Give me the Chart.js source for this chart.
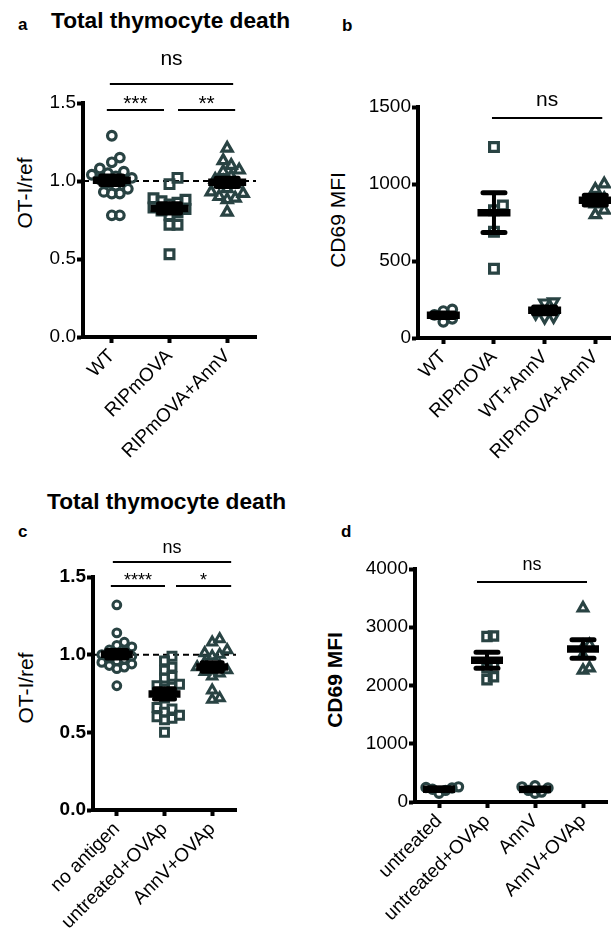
<!DOCTYPE html>
<html>
<head>
<meta charset="utf-8">
<script src="https://cdn.jsdelivr.net/npm/chart.js@4.4.1/dist/chart.umd.min.js"></script>
<style>
    html, body { margin: 0; padding: 0; background: #fff; width: 611px; height: 930px; overflow: hidden; position: relative; }
    canvas { position: absolute; }
    .txt { position: absolute; font-family: "Liberation Sans", Arial, sans-serif; color: #000; line-height: 1; white-space: nowrap; }
    .bold { font-weight: bold; }
    .ytitle { font-size: 21px; transform: translate(-50%, -50%) rotate(-90deg); }
</style>
</head>
<body>
<div class="txt bold" style="left:18px;top:15.5px;font-size:17px">a</div>
<div class="txt bold" style="left:51px;top:8.8px;font-size:22.7px">Total thymocyte death</div>
<div class="txt bold" style="left:342px;top:16.5px;font-size:17px">b</div>
<div class="txt bold" style="left:47px;top:489.8px;font-size:22.7px">Total thymocyte death</div>
<div class="txt bold" style="left:18px;top:522.5px;font-size:17px">c</div>
<div class="txt bold" style="left:341px;top:522.5px;font-size:17px">d</div>
<div class="txt ytitle" style="left:24px;top:193px">OT-I/ref</div>
<div class="txt ytitle" style="left:337px;top:220px">CD69 MFI</div>
<div class="txt ytitle" style="left:25px;top:688px">OT-I/ref</div>
<div class="txt ytitle bold" style="left:334px;top:680px">CD69 MFI</div>

<canvas id="chart-a" width="300" height="460" style="left:0;top:0"></canvas>
<canvas id="chart-b" width="330" height="460" style="left:300px;top:0"></canvas>
<canvas id="chart-c" width="300" height="470" style="left:0;top:460px"></canvas>
<canvas id="chart-d" width="320" height="470" style="left:300px;top:460px"></canvas>

<script>
// Panel a - total thymocyte death (OT-I/ref)
const aCategories = ['WT', 'RIPmOVA', 'RIPmOVA+AnnV'];
const aWT = [1.29, 1.15, 1.12, 1.08, 1.06, 1.05, 1.04, 1.03, 1.02, 1.01, 1.0, 0.99, 0.97, 0.95, 0.93, 0.92, 0.92, 0.78, 0.78];
const aRIPmOVA = [1.02, 0.98, 0.89, 0.88, 0.87, 0.86, 0.85, 0.83, 0.82, 0.81, 0.80, 0.78, 0.72, 0.72, 0.53];
const aRIPmOVAAnnV = [1.21, 1.13, 1.10, 1.07, 1.06, 1.03, 1.01, 1.0, 0.98, 0.95, 0.93, 0.92, 0.90, 0.89, 0.88, 0.80];
const aYTicks = [0, 0.5, 1.0, 1.5];

// Panel b - CD69 MFI
const bCategories = ['WT', 'RIPmOVA', 'WT+AnnV', 'RIPmOVA+AnnV'];
const bWT = [185, 175, 150, 125, 105];
const bRIPmOVA = [1240, 860, 830, 690, 450];
const bWTAnnV = [235, 228, 160, 140, 135];
const bRIPmOVAAnnV = [1000, 965, 905, 870, 830, 800];
const bYTicks = [0, 500, 1000, 1500];

// Panel c - total thymocyte death (OT-I/ref)
const cCategories = ['no antigen', 'untreated+OVAp', 'AnnV+OVAp'];
const cNoAntigen = [1.32, 1.14, 1.08, 1.06, 1.05, 1.03, 1.02, 1.01, 1.0, 0.99, 0.98, 0.97, 0.96, 0.95, 0.94, 0.93, 0.92, 0.91, 0.80];
const cUntreatedOVAp = [0.99, 0.96, 0.92, 0.90, 0.86, 0.85, 0.81, 0.80, 0.79, 0.78, 0.72, 0.66, 0.65, 0.63, 0.61, 0.60, 0.59, 0.58, 0.50];
const cAnnVOVAp = [1.10, 1.08, 1.03, 1.01, 1.0, 0.99, 0.95, 0.93, 0.92, 0.91, 0.90, 0.89, 0.88, 0.86, 0.77, 0.72, 0.71];
const cYTicks = [0, 0.5, 1.0, 1.5];

// Panel d - CD69 MFI
const dCategories = ['untreated', 'untreated+OVAp', 'AnnV', 'AnnV+OVAp'];
const dUntreated = [260, 250, 240, 220, 200, 150];
const dUntreatedOVAp = [2850, 2840, 2360, 2300, 2150, 2100];
const dAnnV = [280, 260, 240, 200, 170, 150];
const dAnnVOVAp = [3330, 2700, 2650, 2520, 2300, 2260];
const dYTicks = [0, 1000, 2000, 3000, 4000];

const MARK = '#294343';
const FONT = '"Liberation Sans", Arial, sans-serif';

// spread points sideways so they don't pile up (like a beeswarm)
function swarmOffsets(values, yPx, gap) {
    const order = values.map((v, i) => i).sort((a, b) => values[a] - values[b]);
    const placed = [];
    const offsets = [];
    order.forEach(i => {
        const py = values[i] * yPx;
        let k = 0, off = 0;
        while (true) {
            off = (k % 2 === 1 ? 1 : -1) * Math.ceil(k / 2) * gap * 0.5;
            const clash = placed.some(p => Math.hypot(p.x - off, p.y - py) < gap);
            if (!clash || k > 30) break;
            k++;
        }
        placed.push({ x: off, y: py });
        offsets[i] = off;
    });
    return offsets;
}

function makePanel(id, p) {
    const canvas = document.getElementById(id);
    const n = p.categories.length;
    const xAxisH = canvas.height - p.padTop - p.plotH;
    const plotW = canvas.width - p.yAxisW - p.padRight;
    const xPx = plotW / n;
    const yPx = p.plotH / p.yMax;

    const datasets = p.groups.map((vals, g) => {
        const offs = swarmOffsets(vals, yPx, p.gap);
        const shape = p.shapes[g];
        return {
            data: vals.map((v, i) => ({ x: g + offs[i] / xPx, y: v })),
            pointStyle: shape === 'invtriangle' ? 'triangle' : shape,
            pointRotation: shape === 'invtriangle' ? 180 : 0,
            pointRadius: p.radius[shape === 'invtriangle' ? 'triangle' : shape],
            pointBorderWidth: p.bw,
            pointBorderColor: MARK,
            pointBackgroundColor: 'rgba(0,0,0,0)',
        };
    });

    // dashed reference line at 1.0
    const refLine = {
        id: 'refLine',
        beforeDatasetsDraw(chart) {
            if (p.refValue == null) return;
            const { ctx, chartArea, scales } = chart;
            const y = scales.y.getPixelForValue(p.refValue);
            ctx.save();
            ctx.strokeStyle = '#000';
            ctx.lineWidth = 2;
            ctx.setLineDash([6, 4]);
            ctx.beginPath();
            ctx.moveTo(chartArea.left, y);
            ctx.lineTo(chartArea.right, y);
            ctx.stroke();
            ctx.restore();
        }
    };

    // mean line with SEM error bars
    const meanSem = {
        id: 'meanSem',
        afterDatasetsDraw(chart) {
            const { ctx, scales } = chart;
            p.groups.forEach((vals, g) => {
                const m = vals.reduce((a, b) => a + b, 0) / vals.length;
                const sd = Math.sqrt(vals.reduce((a, b) => a + (b - m) * (b - m), 0) / (vals.length - 1));
                const sem = sd / Math.sqrt(vals.length);
                const cx = scales.x.getPixelForValue(g);
                const yHi = scales.y.getPixelForValue(m + sem);
                const yLo = scales.y.getPixelForValue(m - sem);
                const yM = scales.y.getPixelForValue(m);
                ctx.save();
                ctx.strokeStyle = '#000';
                ctx.lineCap = 'round';
                ctx.lineWidth = 4;
                ctx.beginPath();
                ctx.moveTo(cx, yHi); ctx.lineTo(cx, yLo);
                ctx.stroke();
                ctx.lineWidth = 5;
                ctx.beginPath();
                ctx.moveTo(cx - p.capW / 2, yHi); ctx.lineTo(cx + p.capW / 2, yHi);
                ctx.moveTo(cx - p.capW / 2, yLo); ctx.lineTo(cx + p.capW / 2, yLo);
                ctx.stroke();
                ctx.lineCap = 'butt';
                ctx.lineWidth = 7.5;
                ctx.beginPath();
                ctx.moveTo(cx - p.meanW / 2, yM); ctx.lineTo(cx + p.meanW / 2, yM);
                ctx.stroke();
                ctx.restore();
            });
        }
    };

    // significance bars
    const sigBars = {
        id: 'sigBars',
        afterDraw(chart) {
            const { ctx, chartArea, scales } = chart;
            ctx.save();
            ctx.strokeStyle = '#000';
            ctx.fillStyle = '#000';
            ctx.lineWidth = 2;
            ctx.font = p.sigFont + 'px ' + FONT;
            ctx.textAlign = 'center';
            ctx.textBaseline = 'alphabetic';
            p.sig.forEach(s => {
                const x1 = scales.x.getPixelForValue(s.from) + s.dx[0];
                const x2 = scales.x.getPixelForValue(s.to) + s.dx[1];
                const y = chartArea.top + s.row;
                ctx.beginPath();
                ctx.moveTo(x1, y); ctx.lineTo(x2, y);
                ctx.stroke();
                ctx.fillText(s.text, (x1 + x2) / 2, y - s.gap);
            });
            ctx.restore();
        }
    };

    return new Chart(canvas.getContext('2d'), {
        type: 'scatter',
        data: { datasets },
        options: {
            responsive: false,
            animation: false,
            events: [],
            layout: { padding: { left: 0, top: p.padTop, right: p.padRight, bottom: 0 } },
            plugins: { legend: { display: false }, tooltip: { enabled: false } },
            scales: {
                x: {
                    type: 'linear',
                    min: -0.5,
                    max: n - 0.5,
                    afterBuildTicks: s => { s.ticks = p.categories.map((c, i) => ({ value: i })); },
                    afterFit: s => { s.height = xAxisH; },
                    ticks: {
                        callback: v => p.categories[v],
                        minRotation: 45,
                        maxRotation: 45,
                        autoSkip: false,
                        padding: 2,
                        color: '#000',
                        font: { family: FONT, size: 19 }
                    },
                    grid: { drawOnChartArea: false, drawTicks: true, tickLength: 6, tickWidth: 4, tickColor: '#000' },
                    border: { display: true, color: '#000', width: 4 }
                },
                y: {
                    type: 'linear',
                    min: 0,
                    max: p.yMax,
                    afterBuildTicks: s => { s.ticks = p.yTicks.map(v => ({ value: v })); },
                    afterFit: s => { s.width = p.yAxisW; },
                    ticks: {
                        callback: v => p.decimals ? v.toFixed(p.decimals) : String(v),
                        padding: 1,
                        color: '#000',
                        font: { family: FONT, size: 19, weight: p.boldTicks ? 'bold' : 'normal' }
                    },
                    grid: { drawOnChartArea: false, drawTicks: true, tickLength: 6, tickWidth: 4, tickColor: '#000' },
                    border: { display: true, color: '#000', width: 4 }
                }
            }
        },
        plugins: [refLine, meanSem, sigBars]
    });
}

document.addEventListener("DOMContentLoaded", function() {
    const radiusA = { circle: 4.3, rect: 6.2, triangle: 5.8 };

    makePanel('chart-a', {
        categories: aCategories,
        groups: [aWT, aRIPmOVA, aRIPmOVAAnnV],
        shapes: ['circle', 'rect', 'triangle'],
        radius: radiusA, bw: 3.2, gap: 8,
        yMax: 1.5, yTicks: aYTicks, decimals: 1, boldTicks: false,
        refValue: 1.0,
        yAxisW: 83, padTop: 103, padRight: 44, plotH: 234,
        meanW: 38, capW: 22, sigFont: 21,
        sig: [
            { from: 0, to: 1, text: '***', row: 7, dx: [-5, -5.5], gap: 0 },
            { from: 1, to: 2, text: '**', row: 7, dx: [8.5, 8], gap: 0 },
            { from: 0, to: 2, text: 'ns', row: -19, dx: [-2, 6], gap: 19 }
        ]
    });

    makePanel('chart-b', {
        categories: bCategories,
        groups: [bWT, bRIPmOVA, bWTAnnV, bRIPmOVAAnnV],
        shapes: ['circle', 'rect', 'invtriangle', 'triangle'],
        radius: radiusA, bw: 3.2, gap: 9,
        yMax: 1500, yTicks: bYTicks, decimals: 0, boldTicks: false,
        refValue: null,
        yAxisW: 118, padTop: 107, padRight: 8, plotH: 231,
        meanW: 33, capW: 22, sigFont: 21,
        sig: [
            { from: 1, to: 3, text: 'ns', row: 11, dx: [-2, 7], gap: 12 }
        ]
    });

    makePanel('chart-c', {
        categories: cCategories,
        groups: [cNoAntigen, cUntreatedOVAp, cAnnVOVAp],
        shapes: ['circle', 'rect', 'triangle'],
        radius: { circle: 3.9, rect: 5.6, triangle: 5.3 }, bw: 3, gap: 7.5,
        yMax: 1.5, yTicks: cYTicks, decimals: 1, boldTicks: true,
        refValue: 1.0,
        yAxisW: 93, padTop: 117, padRight: 64, plotH: 233,
        meanW: 32, capW: 20, sigFont: 18,
        sig: [
            { from: 0, to: 1, text: '****', row: 9, dx: [-6, 0.5], gap: 0 },
            { from: 1, to: 2, text: '*', row: 9, dx: [11.5, 19], gap: 0 },
            { from: 0, to: 2, text: 'ns', row: -15, dx: [-4, 19], gap: 9 }
        ]
    });

    makePanel('chart-d', {
        categories: dCategories,
        groups: [dUntreated, dUntreatedOVAp, dAnnV, dAnnVOVAp],
        shapes: ['circle', 'rect', 'circle', 'triangle'],
        radius: { circle: 4.1, rect: 5.9, triangle: 5.5 }, bw: 3.2, gap: 6.5,
        yMax: 4000, yTicks: dYTicks, decimals: 0, boldTicks: false,
        refValue: null,
        yAxisW: 115, padTop: 109, padRight: 13, plotH: 233,
        meanW: 32, capW: 22, sigFont: 18,
        sig: [
            { from: 1, to: 3, text: 'ns', row: 13, dx: [-10, 4], gap: 12 }
        ]
    });
});
</script>
</body>
</html>
